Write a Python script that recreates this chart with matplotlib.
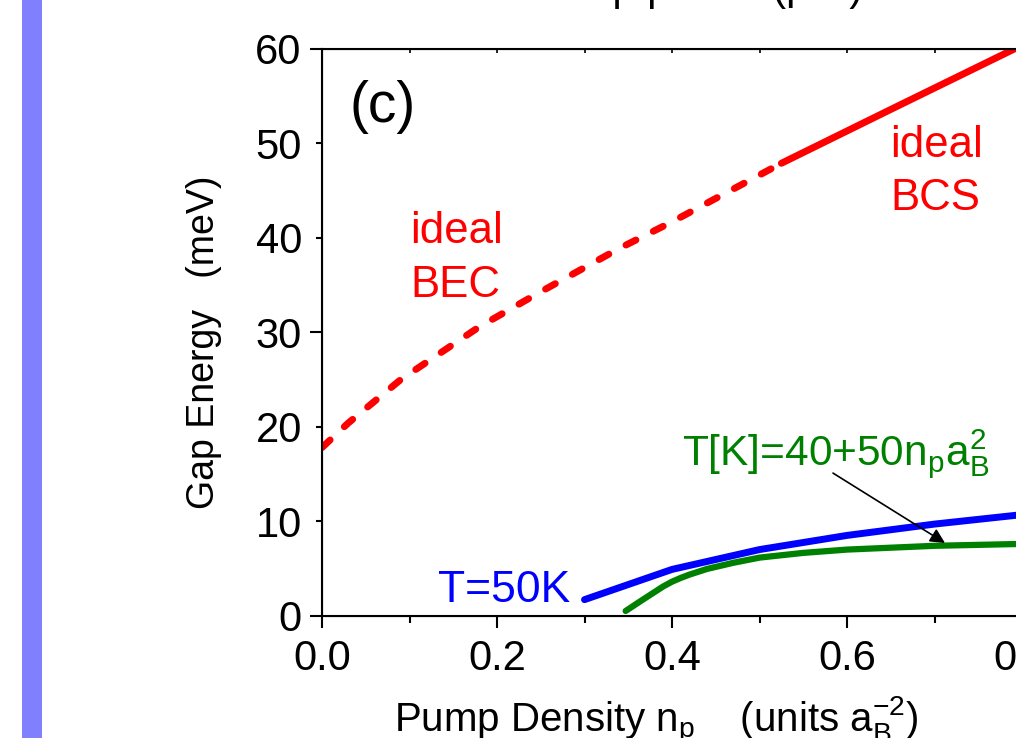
import matplotlib
matplotlib.use('Agg')
import matplotlib.pyplot as plt
from matplotlib.ticker import FixedLocator, FormatStrFormatter, MultipleLocator
from matplotlib.patches import Rectangle

plt.rcParams['font.family'] = ['Liberation Sans', 'DejaVu Sans']
plt.rcParams['mathtext.fontset'] = 'custom'
plt.rcParams['mathtext.rm'] = 'Liberation Sans'
plt.rcParams['mathtext.it'] = 'Liberation Sans:italic'
plt.rcParams['mathtext.bf'] = 'Liberation Sans:bold'
plt.rcParams['lines.scale_dashes'] = False

# ---------------- data ----------------
bec_x = [0.0, 0.03, 0.09, 0.18, 0.25, 0.34, 0.40, 0.525]
bec_y = [17.8, 20.4, 25.0, 30.6, 34.3, 38.9, 41.7, 47.9]
bcs_x = [0.525, 0.65, 0.80]
bcs_y = [47.9, 53.6, 60.4]
t50_x = [0.30, 0.40, 0.50, 0.60, 0.70, 0.80]
t50_y = [1.7, 4.9, 7.0, 8.5, 9.7, 10.7]
tvar_x = [0.347, 0.365, 0.38, 0.39, 0.40, 0.41, 0.42, 0.44, 0.47, 0.50, 0.55, 0.60, 0.70, 0.80]
tvar_y = [0.5, 1.6, 2.5, 3.1, 3.6, 4.0, 4.35, 4.95, 5.6, 6.15, 6.65, 7.0, 7.4, 7.6]

x_major = [0.0, 0.2, 0.4, 0.6, 0.8]
x_minor = [0.1, 0.3, 0.5, 0.7]
y_major = [0, 30, 60]
y_minor = [10, 20, 40, 50]

W, H = 1016, 738
fig = plt.figure(figsize=(W / 100, H / 100), dpi=100)
fig.patches.append(Rectangle((22 / W, 0), 20 / W, 1, transform=fig.transFigure,
                             facecolor='#8080ff', edgecolor='none', zorder=0))

ax = fig.add_axes([322 / W, (H - 615.7) / H, 700 / W, 566.7 / H])
ax.set_xlim(0, 0.8)
ax.set_ylim(0, 60)

ax.plot(bec_x, bec_y, color='red', lw=5, dashes=(8, 14), dash_capstyle='round')
ax.plot(bcs_x, bcs_y, color='red', lw=5, solid_capstyle='round')
ax.plot(t50_x, t50_y, color='#0000ff', lw=5, solid_capstyle='round')
ax.plot(tvar_x, tvar_y, color='#008000', lw=4.5, solid_capstyle='round')

for sp in ax.spines.values():
    sp.set_linewidth(1.5)

ax.xaxis.set_major_locator(FixedLocator(x_major))
ax.xaxis.set_minor_locator(FixedLocator(x_minor))
ax.xaxis.set_major_formatter(FormatStrFormatter('%.1f'))
ax.yaxis.set_major_locator(FixedLocator(y_major))
ax.yaxis.set_minor_locator(FixedLocator(y_minor))
ax.yaxis.set_major_formatter(FormatStrFormatter('%d'))
ax.yaxis.set_minor_formatter(FormatStrFormatter('%d'))

ax.tick_params(axis='both', which='both', direction='out', width=1.5, labelsize=30)
ax.tick_params(axis='x', which='major', length=8.6, pad=8)
ax.tick_params(axis='x', which='minor', length=5)
ax.tick_params(axis='y', which='major', length=8.6, pad=6)
ax.tick_params(axis='y', which='minor', length=4.3, pad=10)

top = ax.twiny()
top.set_xlim(ax.get_xlim())
top.xaxis.set_major_locator(MultipleLocator(0.1))
top.tick_params(axis='x', which='major', direction='in', length=3, width=1.2, labeltop=False)

ax.set_xlabel(r'Pump Density n$_\mathregular{p}$    (units a$_\mathregular{B}^\mathregular{-2}$)', fontsize=29)
ax.set_ylabel('Gap Energy   (meV)', fontsize=27)
ax.xaxis.set_label_coords(0.477, -0.14)
ax.yaxis.set_label_coords(-0.143, 0.483)

fig.text(695 / W, 1.0, 'Pump power (\u03bcW)', fontsize=30, ha='center', va='baseline')

ax.text(0.031, 52.3, '(c)', fontsize=41, color='black')
ax.text(0.1006, 39.46, 'ideal', fontsize=31.5, color='red')
ax.text(0.1006, 33.74, 'BEC', fontsize=31.5, color='red')
ax.text(0.649, 48.6, 'ideal', fontsize=31.5, color='red')
ax.text(0.649, 42.95, 'BCS', fontsize=31.5, color='red')
ax.text(0.133, 1.48, 'T=50K', fontsize=32, color='#0000ff')
ax.text(0.4114, 15.96, r'T[K]=40+50n$_\mathregular{p}$a$_\mathregular{B}^\mathregular{2}$',
        fontsize=30.5, color='#008000')
ax.annotate('', xy=(0.712, 7.7), xytext=(0.584, 15.1),
            arrowprops=dict(arrowstyle='-|>', color='black', lw=1.2,
                            mutation_scale=22, shrinkA=0, shrinkB=0))

fig.savefig('out.png', dpi=100)
